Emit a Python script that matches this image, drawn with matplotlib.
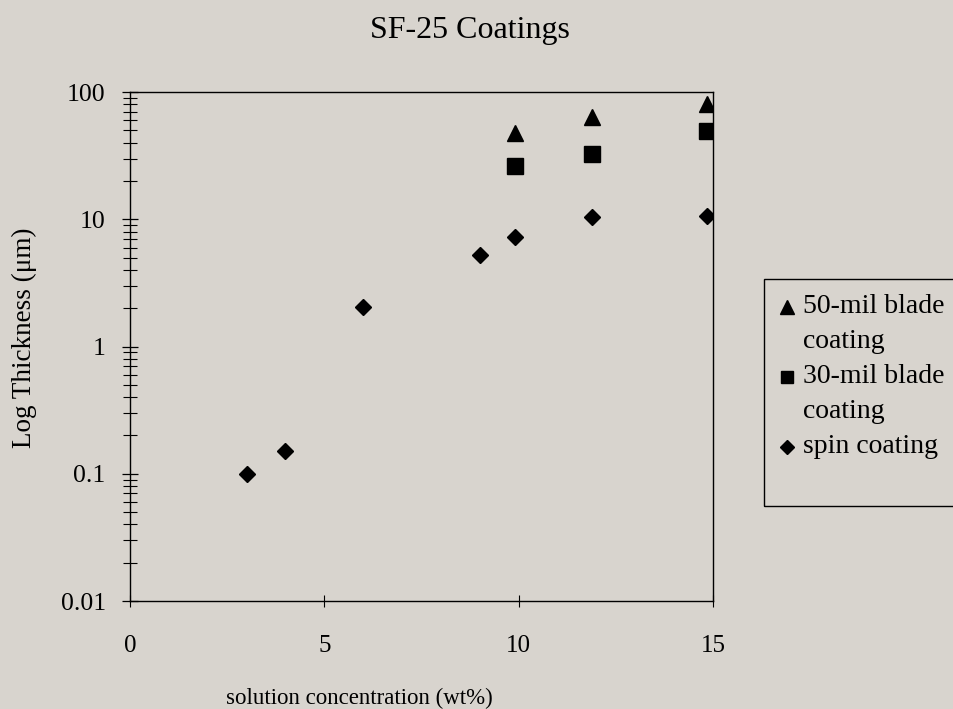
import matplotlib
matplotlib.use('Agg')
import matplotlib.pyplot as plt
from matplotlib.patches import Rectangle
from matplotlib.lines import Line2D
from matplotlib.ticker import LogLocator, NullFormatter, FixedLocator, FixedFormatter

plt.rcParams['font.family'] = 'Liberation Serif'

# datos
conc_blade = [9.9, 11.9, 14.85]
espesor_50mil = [47.5, 63.5, 80.5]
espesor_30mil = [26.0, 32.5, 49.5]
conc_spin = [3, 4, 6, 9, 9.9, 11.9, 14.85]
espesor_spin = [0.1, 0.15, 2.05, 5.2, 7.3, 10.5, 10.6]

etiquetas = [['50-mil blade', 'coating'], ['30-mil blade', 'coating'], ['spin coating']]
marcadores = ['^', 's', 'D']
tam_marcador_leyenda = [9.5, 8.5, 7.5]
xticks = [0, 5, 10, 15]
yticks = [0.01, 0.1, 1, 10, 100]
yticklabels = ['0.01', '0.1', '1', '10', '100']

fondo = '#d8d4ce'

fig = plt.figure(figsize=(9.54, 7.09), dpi=100, facecolor=fondo)
ax = fig.add_axes([0.1363, 0.1523, 0.611, 0.7179], facecolor=fondo)

ax.plot(conc_blade, espesor_50mil, linestyle='none', marker='^', color='black', markersize=12)
ax.plot(conc_blade, espesor_30mil, linestyle='none', marker='s', color='black', markersize=11.5)
ax.plot(conc_spin, espesor_spin, linestyle='none', marker='D', color='black', markersize=8.5)

ax.set_yscale('log')
ax.set_xlim(0, 15)
ax.set_ylim(0.01, 100)

ax.xaxis.set_major_locator(FixedLocator(xticks))
ax.yaxis.set_major_locator(FixedLocator(yticks))
ax.yaxis.set_major_formatter(FixedFormatter(yticklabels))
ax.yaxis.set_minor_locator(LogLocator(base=10, subs=range(2, 10)))
ax.yaxis.set_minor_formatter(NullFormatter())

ax.tick_params(axis='x', which='major', direction='inout', length=9, width=0.8, labelsize=18, pad=20)
ax.tick_params(axis='y', which='major', direction='inout', length=11, width=0.9, labelsize=18.5, pad=12)
ax.tick_params(axis='y', which='minor', direction='inout', length=10, width=0.8)
for s in ax.spines.values():
    s.set_linewidth(1.0)

ax.set_xlabel('solution concentration (wt%)', fontsize=16.5)
ax.xaxis.set_label_coords(0.393, -0.171)
ax.set_ylabel('Log Thickness (μm)', fontsize=19.5)
ax.yaxis.set_label_coords(-0.159, 0.517)
fig.text(470 / 954, 1 - 38 / 709, 'SF-25 Coatings', ha='center', va='baseline', fontsize=23)

# leyenda dibujada a mano: caja abierta hacia la derecha, marcador junto a la primera linea
caja = Rectangle((764 / 954, 1 - 506 / 709), 0.3, (506 - 279) / 709, transform=fig.transFigure,
                 fill=False, edgecolor='black', linewidth=1.0, clip_on=False)
fig.patches.append(caja)
y_linea = 313
for lineas, m, tam in zip(etiquetas, marcadores, tam_marcador_leyenda):
    fig.add_artist(Line2D([787 / 954], [1 - (y_linea - 6) / 709], transform=fig.transFigure,
                          linestyle='none', marker=m, color='black', markersize=tam))
    for texto in lineas:
        fig.text(803 / 954, 1 - y_linea / 709, texto, ha='left', va='baseline', fontsize=20)
        y_linea += 35

fig.savefig('out.png', dpi=100, facecolor=fondo)
